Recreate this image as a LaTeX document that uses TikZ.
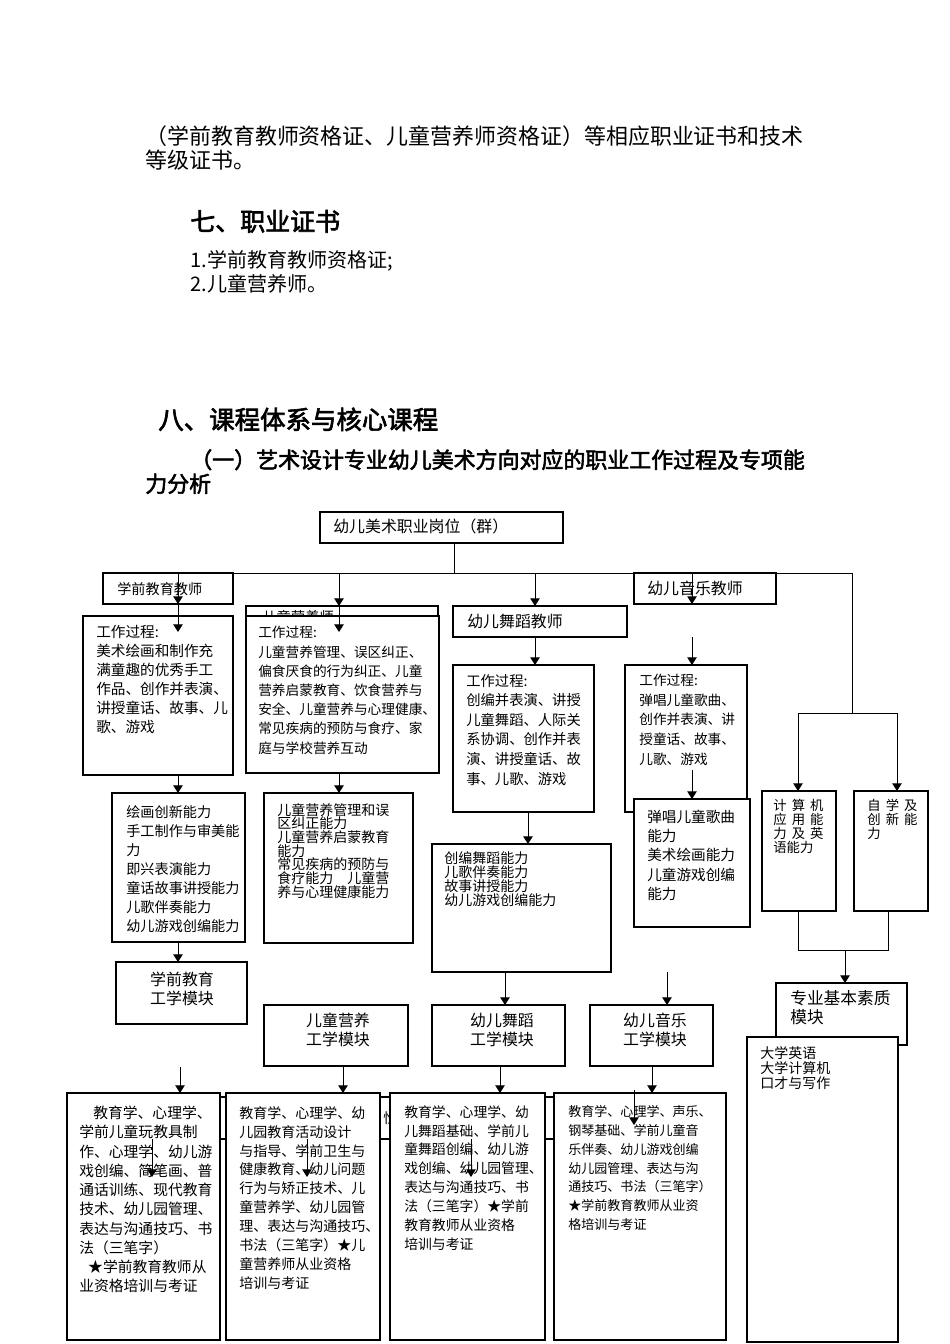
\documentclass[tikz,border=0pt]{standalone}
\usepackage{fontspec}
\setmainfont{Noto Sans CJK SC}
\newfontfamily\hei[FakeBold=2.5]{Noto Sans CJK SC}
\usetikzlibrary{arrows.meta,calc}
\tikzset{
  ar/.style={-{Triangle[length=1.7mm,width=2.1mm]},line width=0.6pt},
  ln/.style={line width=0.6pt},
  bx/.style={draw,line width=0.8pt,fill=white,inner sep=0pt,outer sep=0pt},
  tx/.style={anchor=north west,inner sep=0pt,align=left},
  tc/.style={inner sep=0pt,align=center,font=\fs{10}{12}}
}
\newcommand\fs[2]{\fontsize{#1pt}{#2pt}\selectfont}
\newcommand\gp{\hspace{3.2pt}}
% box node from its corners (page pixels)
\newcommand\bxat[5]{\node[bx,minimum width={(#4-#2)*0.221mm},minimum height={(#5-#3)*0.221mm}] (#1) at ({(#2+#4)/2},{(#3+#5)/2}) {};}

\begin{document}
\begin{tikzpicture}[x=0.221mm,y=-0.221mm]
\useasboundingbox (0,0) rectangle (950,1344);

% running text
\node[tx,font=\fs{13.8}{15.1}] (p1) at (145,125) {（学前教育教师资格证、儿童营养师资格证）等相应职业证书和技术\\等级证书。};
\node[tx,font=\hei\fs{15.7}{18}] (h7) at (190,209.5) {七、职业证书};
\node[tx,font=\fs{12.6}{15.1}] (l12) at (190,250) {1.学前教育教师资格证;\\2.儿童营养师。};
\node[tx,font=\hei\fs{16}{18}] (h8) at (158,407.3) {八、课程体系与核心课程};
\node[tx,font=\hei\fs{13.8}{15.1}] (h81) at (145,449) {\hspace*{28.3pt}（一）艺术设计专业幼儿美术方向对应的职业工作过程及专项能\\力分析};

% bus lines
\coordinate (j0) at (454,573);
\coordinate (bL) at (178,573);
\coordinate (bB) at (339,573);
\coordinate (bC) at (535,573);
\coordinate (bD) at (692,573);
\coordinate (bR) at (852,573);
\coordinate (kR) at (852,713);
\coordinate (kL) at (798,713);
\coordinate (kE) at (897,713);
\draw[ln] (bL) -- (bR) -- (kR);
\draw[ln] (kL) -- (kE);

% level 1 and 2
\bxat{job}{320}{512}{563}{543}
\node[tx,font=\fs{10}{12}] (job-t) at (333,519) {幼儿美术职业岗位（群）};
\draw[ln] (j0 |- job.south) -- (j0);

\bxat{teaA}{103}{573}{233}{604}
\node[tx,font=\fs{8.9}{12}] (teaA-t) at (117,582) {学前教育教师};
\bxat{hidB}{246}{606}{438}{650}
\node[tx,font=\fs{9}{10}] (hidB-t) at (262,610) {儿童营养师};
\bxat{teaC}{453}{606}{627}{637}
\node[tx,font=\fs{10}{12}] (teaC-t) at (467,614) {幼儿舞蹈教师};
\bxat{teaD}{634}{573}{776}{604}
\node[tx,font=\fs{10}{12}] (teaD-t) at (647,581) {幼儿音乐教师};

% work process
\bxat{wpA}{83}{616}{233}{775}
\node[tx,font=\fs{9.2}{12}] (wpA-t) at (96,625) {工作过程:\\美术绘画和制作充\\满童趣的优秀手工\\作品、创作并表演、\\讲授童话、故事、儿\\歌、游戏};
\bxat{wpB}{246}{616}{439}{773}
\node[tx,font=\fs{8.6}{12.1}] (wpB-t) at (258,626) {工作过程:\\儿童营养管理、误区纠正、\\偏食厌食的行为纠正、儿童\\营养启蒙教育、饮食营养与\\安全、儿童营养与心理健康、\\常见疾病的预防与食疗、家\\庭与学校营养互动};
\bxat{wpC}{453}{665}{594}{812}
\node[tx,font=\fs{9}{12.3}] (wpC-t) at (466,674) {工作过程:\\创编并表演、讲授\\儿童舞蹈、人际关\\系协调、创作并表\\演、讲授童话、故\\事、儿歌、游戏};
\bxat{wpD}{625}{665}{747}{812}
\node[tx,font=\fs{8.6}{12.3}] (wpD-t) at (639,674) {工作过程:\\弹唱儿童歌曲、\\创作并表演、讲\\授童话、故事、\\儿歌、游戏};

% abilities
\bxat{abA}{112}{793}{245}{942}
\node[tx,font=\fs{8.9}{11.95}] (abA-t) at (126,805) {绘画创新能力\\手工制作与审美能\\力\\即兴表演能力\\童话故事讲授能力\\儿歌伴奏能力\\幼儿游戏创编能力};
\bxat{abB}{264}{793}{413}{943}
\node[tx,font=\fs{8.8}{8.6}] (abB-t) at (277,803) {儿童营养管理和误\\区纠正能力\\儿童营养启蒙教育\\能力\\常见疾病的预防与\\食疗能力　儿童营\\养与心理健康能力};
\bxat{abC}{432}{844}{611}{972}
\node[tx,font=\fs{8.8}{8.8}] (abC-t) at (444,851) {创编舞蹈能力\\儿歌伴奏能力\\故事讲授能力\\幼儿游戏创编能力};
\bxat{abD}{634}{799}{750}{927}
\node[tx,font=\fs{9.2}{12}] (abD-t) at (647,810) {弹唱儿童歌曲\\能力\\美术绘画能力\\儿童游戏创编\\能力};
\bxat{abE}{762}{791}{836}{911}
\node[tx,font=\fs{8.4}{8.8}] (abE-t) at (773,798.5) {计\gp 算\gp 机\\应\gp 用\gp 能\\力\gp 及\gp 英\\语能力};
\bxat{abF}{854}{791}{928}{911}
\node[tx,font=\fs{8.4}{8.8}] (abF-t) at (867,798.5) {自\gp 学\gp 及\\创\gp 新\gp 能\\力};

% modules
\bxat{modA}{116}{962}{247}{1024}
\node[tc] (modA-t) at (182,988.5) {学前教育\\工学模块};
\bxat{modB}{264}{1005}{408}{1066}
\node[tc] (modB-t) at (338,1030) {儿童营养\\工学模块};
\bxat{modC}{432}{1005}{565}{1066}
\node[tc] (modC-t) at (502,1030) {幼儿舞蹈\\工学模块};
\bxat{modD}{590}{1005}{713}{1066}
\node[tc] (modD-t) at (655,1030) {幼儿音乐\\工学模块};
\bxat{modE}{776}{983}{907}{1045}
\node[tx,font=\fs{10.5}{12}] (modE-t) at (790,989.7) {专业基本素质\\模块};
\bxat{bsR}{747}{1037}{898}{1342}
\node[tx,font=\fs{8.8}{9.4}] (bsR-t) at (760,1046) {大学英语\\大学计算机\\口才与写作};

% courses
\bxat{hidC}{100}{1097}{700}{1139}
\node[tx,font=\fs{8.8}{12}] (hidC-t) at (383,1111) {性};
\bxat{csA}{67}{1093}{220}{1340}
\node[tx,font=\fs{9.3}{12.1}] (csA-t) at (79,1105.7) {\hspace*{8.8pt}教育学、心理学、\\学前儿童玩教具制\\作、心理学、幼儿游\\戏创编、简笔画、普\\通话训练、现代教育\\技术、幼儿园管理、\\表达与沟通技巧、书\\法（三笔字）\\\hspace*{5.6pt}★学前教育教师从\\业资格培训与考证};
\bxat{csB}{226}{1093}{380}{1340}
\node[tx,font=\fs{8.8}{11.9}] (csB-t) at (239,1106) {教育学、心理学、幼\\儿园教育活动设计\\与指导、学前卫生与\\健康教育、幼儿问题\\行为与矫正技术、儿\\童营养学、幼儿园管\\理、表达与沟通技巧、\\书法（三笔字）★儿\\童营养师从业资格\\培训与考证};
\bxat{csC}{390}{1093}{545}{1340}
\node[tx,font=\fs{8.7}{11.9}] (csC-t) at (404,1105) {教育学、心理学、幼\\儿舞蹈基础、学前儿\\童舞蹈创编、幼儿游\\戏创编、幼儿园管理、\\表达与沟通技巧、书\\法（三笔字）★学前\\教育教师从业资格\\培训与考证};
\bxat{csD}{554}{1093}{726}{1340}
\node[tx,font=\fs{8.2}{11.8}] (csD-t) at (568,1105.5) {教育学、心理学、声乐、\\钢琴基础、学前儿童音\\乐伴奏、幼儿游戏创编\\幼儿园管理、表达与沟\\通技巧、书法（三笔字）\\★学前教育教师从业资\\格培训与考证};

% arrows
\coordinate (tA) at (178,632);
\coordinate (tB) at (339,632);
\draw[ar] (bL) -- (bL |- teaA.south);
\draw[ar] (bL |- teaA.south) -- (tA);
\draw[ar] (bB) -- (bB |- hidB.north);
\draw[ar] (bB |- hidB.north) -- (tB);
\draw[ar] (bC) -- (bC |- teaC.north);
\draw[ar] (bD) -- (bD |- teaD.south);
\draw[ar] (bC |- teaC.south) -- (bC |- wpC.north);
\coordinate (fD) at (692,637);
\draw[ar] (fD) -- (fD |- wpD.north);
\draw[ar] (kL) -- (kL |- abE.north);
\draw[ar] (kE) -- (kE |- abF.north);
\draw[ar] (bL |- wpA.south) -- (bL |- abA.north);
\draw[ar] (bB |- wpB.south) -- (bB |- abB.north);
\coordinate (cC) at (528,812);
\draw[ar] (cC) -- (cC |- abC.north);
\coordinate (dD) at (692,770);
\draw[ar] (dD) -- (dD |- abD.north);
\draw[ar] (bL |- abA.south) -- (bL |- modA.north);
\coordinate (eC) at (505,972);
\draw[ar] (eC) -- (eC |- modC.north);
\coordinate (fM) at (667,972);
\draw[ar] (fM) -- (fM |- modD.north);
\coordinate (gE) at (798,950);
\coordinate (gF) at (888,950);
\coordinate (gM) at (845,950);
\draw[ln] (gE |- abE.south) -- (gE) -- (gF) -- (gF |- abF.south);
\draw[ar] (gM) -- (gM |- modE.north);
\coordinate (fA) at (180,1067);
\draw[ar] (fA) -- (fA |- csA.north);
\coordinate (mB) at (343,1066);
\coordinate (mC) at (500,1066);
\coordinate (mD) at (652,1066);
\draw[ar] (mB |- modB.south) -- (mB |- csB.north);
\draw[ar] (mC |- modC.south) -- (mC |- csC.north);
\draw[ar] (mD |- modD.south) -- (mD |- csD.north);
% stray arrows over the course boxes
\coordinate (sA) at (152,1139);
\coordinate (sB) at (307,1139);
\coordinate (sC) at (471,1139);
\coordinate (sD) at (634,1090);
\foreach \s in {sA,sB,sC}{\draw[ar] (\s) -- ++(0,38);}
\draw[ar] (sD) -- ++(0,35);
\end{tikzpicture}
\end{document}
